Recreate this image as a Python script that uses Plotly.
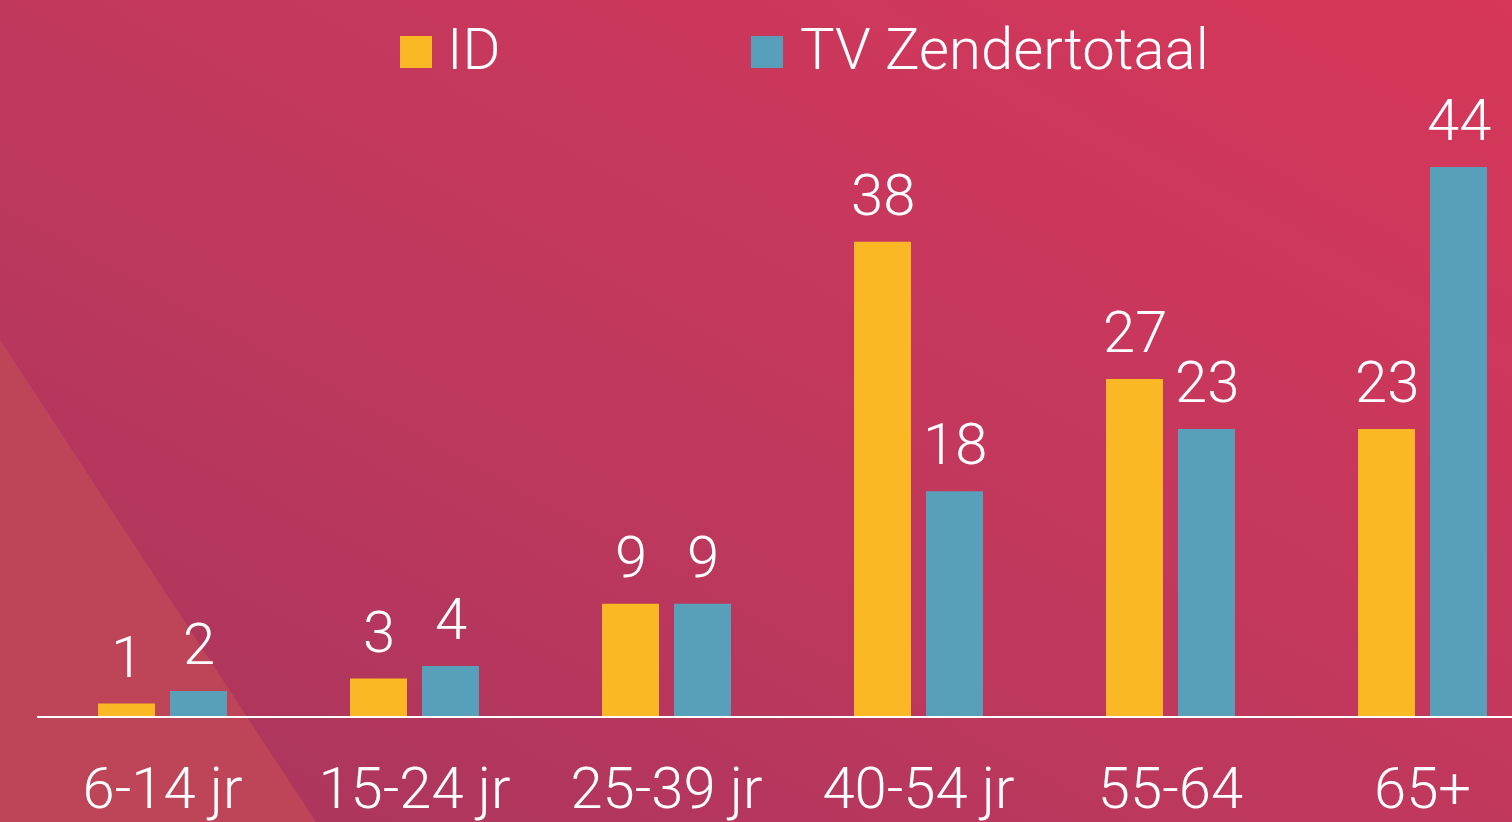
import base64
import plotly.graph_objects as go

categories = ["6-14 jr", "15-24 jr", "25-39 jr", "40-54 jr", "55-64", "65+"]
series_names = ["ID", "TV Zendertotaal"]
id_values = [1, 3, 9, 38, 27, 23]
tv_values = [2, 4, 9, 18, 23, 44]

W, H = 1512, 822
ML, MR, MT, MB = 37, 0, 0, 106
PW, PH = W - ML - MR, H - MT - MB
CAT_PX = 252
X0_PX = 36.5  # left edge of first category band in pixels

C_ID = "#F9B824"
C_TV = "#58A0B9"
FONT = "Roboto Light, Roboto"

bar_w = 57 / CAT_PX
gap = 15 / CAT_PX
off_id = -(bar_w + gap / 2)
off_tv = gap / 2

def px_x(px):
    return (px - ML) / PW

def px_y(py):
    return (MT + PH - py) / PH

svg = f'''<svg xmlns="http://www.w3.org/2000/svg" width="{W}" height="{H}" viewBox="0 0 {W} {H}" preserveAspectRatio="none">
<defs><linearGradient id="g" x1="0" y1="1" x2="1" y2="0">
<stop offset="0" stop-color="#A8355C"/>
<stop offset="0.45" stop-color="#BF385D"/>
<stop offset="1" stop-color="#D6375A"/>
</linearGradient></defs>
<rect x="0" y="0" width="{W}" height="{H}" fill="url(#g)"/>
<polygon points="0,340 316,822 0,822" fill="#BE4558"/>
</svg>'''
svg_uri = "data:image/svg+xml;base64," + base64.b64encode(svg.encode()).decode()

fig = go.Figure()
idx = list(range(len(categories)))
fig.add_trace(go.Bar(x=idx, y=id_values, name=series_names[0], marker_color=C_ID,
                     marker_line_width=0, width=bar_w, offset=off_id, hoverinfo="y"))
fig.add_trace(go.Bar(x=idx, y=tv_values, name=series_names[1], marker_color=C_TV,
                     marker_line_width=0, width=bar_w, offset=off_tv, hoverinfo="y"))

lab_font = dict(family=FONT, size=58, color="white", weight=300)
annotations = []
for i, (a, b) in enumerate(zip(id_values, tv_values)):
    annotations.append(dict(x=i + off_id + bar_w / 2, y=a, xref="x", yref="y", text=str(a),
                            showarrow=False, yanchor="bottom", yshift=11, font=lab_font))
    annotations.append(dict(x=i + off_tv + bar_w / 2, y=b, xref="x", yref="y", text=str(b),
                            showarrow=False, yanchor="bottom", yshift=11, font=lab_font))

shapes = []
legend_items = [(series_names[0], C_ID, 400, 445), (series_names[1], C_TV, 751, 798)]
for name, col, sx, tx in legend_items:
    shapes.append(dict(type="rect", xref="paper", yref="paper",
                       x0=px_x(sx), x1=px_x(sx + 32), y0=px_y(68), y1=px_y(36),
                       fillcolor=col, line_width=0, layer="above"))
    annotations.append(dict(x=px_x(tx), y=px_y(49), xref="paper", yref="paper", text=name,
                            showarrow=False, xanchor="left", yanchor="middle", font=lab_font))

ymax = PH / 12.48
xmin = -0.5 + (ML - X0_PX) / CAT_PX
xmax = xmin + PW / CAT_PX

fig.update_layout(
    width=W, height=H,
    margin=dict(l=ML, r=MR, t=MT, b=MB, pad=0),
    paper_bgcolor="#C0385C", plot_bgcolor="rgba(0,0,0,0)",
    showlegend=False,
    font=dict(family=FONT, color="white", weight=300),
    xaxis=dict(range=[xmin, xmax], tickmode="array", tickvals=idx, ticktext=categories,
               showline=True, linecolor="white", linewidth=2, showgrid=False, zeroline=False,
               ticks="outside", ticklen=0, tickcolor="rgba(0,0,0,0)", ticklabelstandoff=20,
               tickfont=lab_font, fixedrange=True, automargin=False),
    yaxis=dict(range=[0, ymax], visible=False, showgrid=False, zeroline=False,
               fixedrange=True, automargin=False),
    annotations=annotations,
    shapes=shapes,
    images=[dict(source=svg_uri, xref="paper", yref="paper", x=-ML / PW, y=1 + MT / PH,
                 sizex=W / PW, sizey=H / PH, xanchor="left", yanchor="top",
                 sizing="stretch", layer="below")],
)

fig.write_html("out.html", config={"displayModeBar": False},
               post_script="document.body.style.margin='0';document.body.style.overflow='hidden';document.body.style.background='#C0385C';")
